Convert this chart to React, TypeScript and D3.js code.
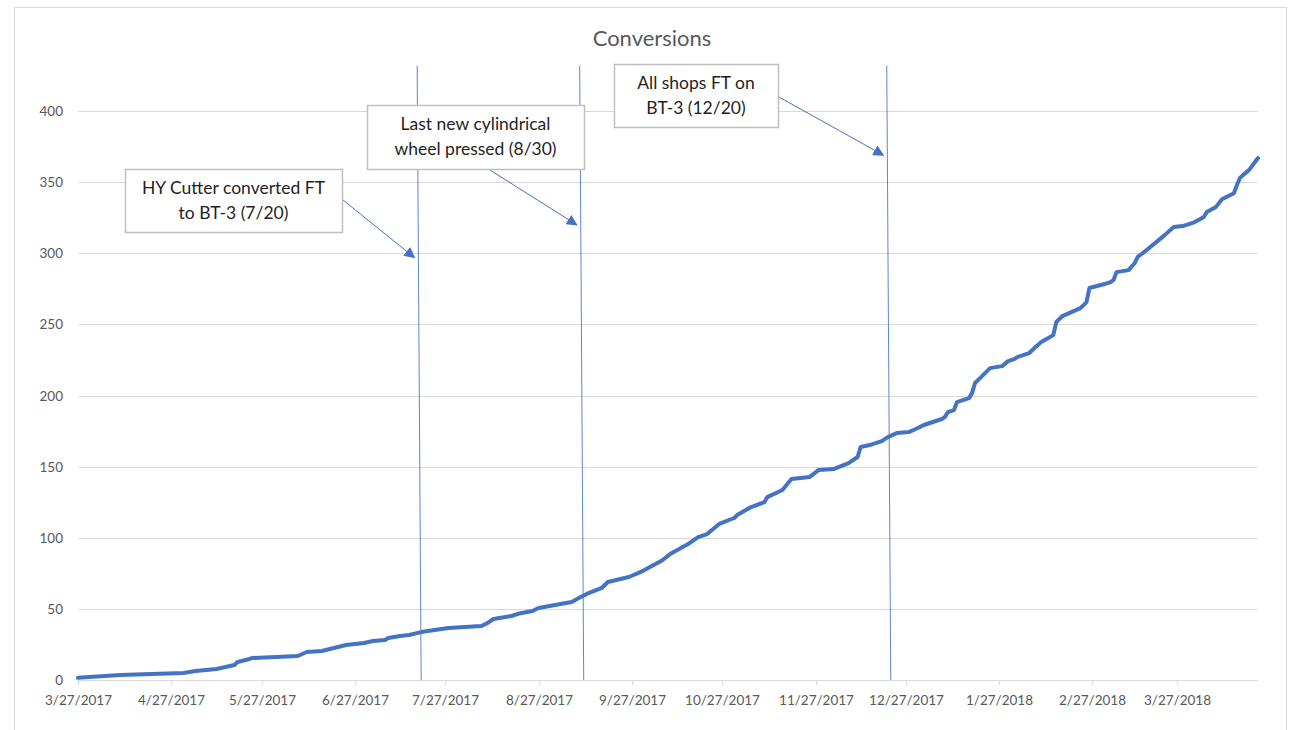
import React from "react";
import * as d3 from "d3";

// Cumulative conversions by date
const dates = [
  "2017-03-27", "2017-04-10", "2017-05-01", "2017-05-05", "2017-05-12", "2017-05-18", "2017-05-19",
  "2017-05-23", "2017-05-24", "2017-06-08", "2017-06-11", "2017-06-16", "2017-06-24", "2017-06-30",
  "2017-07-03", "2017-07-07", "2017-07-08", "2017-07-12", "2017-07-15", "2017-07-19", "2017-07-28",
  "2017-08-08", "2017-08-10", "2017-08-12", "2017-08-18", "2017-08-21", "2017-08-25", "2017-08-27",
  "2017-09-07", "2017-09-10", "2017-09-12", "2017-09-17", "2017-09-19", "2017-09-26", "2017-09-30",
  "2017-10-03", "2017-10-07", "2017-10-10", "2017-10-16", "2017-10-19", "2017-10-22", "2017-10-26",
  "2017-10-31", "2017-11-01", "2017-11-05", "2017-11-10", "2017-11-11", "2017-11-16", "2017-11-19",
  "2017-11-25", "2017-11-28", "2017-12-03", "2017-12-08", "2017-12-10", "2017-12-11", "2017-12-12",
  "2017-12-15", "2017-12-19", "2017-12-21", "2017-12-24", "2017-12-28", "2017-12-31", "2018-01-02",
  "2018-01-08", "2018-01-09", "2018-01-10", "2018-01-12", "2018-01-13", "2018-01-17", "2018-01-18",
  "2018-01-19", "2018-01-21", "2018-01-24", "2018-01-28", "2018-01-30", "2018-02-01", "2018-02-02",
  "2018-02-06", "2018-02-08", "2018-02-10", "2018-02-14", "2018-02-15", "2018-02-17", "2018-02-20",
  "2018-02-23", "2018-02-25", "2018-02-26", "2018-03-03", "2018-03-05", "2018-03-06", "2018-03-07",
  "2018-03-11", "2018-03-13", "2018-03-14", "2018-03-17", "2018-03-21", "2018-03-23", "2018-03-26",
  "2018-03-29", "2018-04-02", "2018-04-05", "2018-04-06", "2018-04-09", "2018-04-11", "2018-04-15",
  "2018-04-16", "2018-04-17", "2018-04-18", "2018-04-20", "2018-04-23",
];

const conversions = [
  1.5, 3.5, 4.9, 6.3, 7.7, 10.5, 12.7,
  14.8, 15.5, 16.9, 19.7, 20.4, 24.6, 26,
  27.4, 28.1, 29.5, 30.9, 31.6, 33.7, 36.5,
  38, 40, 42.9, 45, 47, 48.5, 50.6,
  54.8, 58.3, 60.5, 64.7, 68.9, 72.4, 76,
  79.5, 84, 89, 96, 100.5, 102.6, 109.7,
  113.9, 116, 121, 125, 128.6, 133.6, 141.3,
  142.7, 147.6, 148.3, 152.5, 155.4, 156.8, 163.8,
  165.2, 168, 170.8, 173.6, 174.3, 177.2, 179.3,
  183.5, 185, 188.4, 189.8, 195.4, 198.2, 201.7,
  208.8, 213, 219.3, 220.7, 224.2, 225.6, 227,
  229.9, 234, 237.6, 242.5, 251.7, 255.9, 258.7,
  261.5, 265.5, 275.6, 278.4, 279.8, 281.2, 286.8,
  288.2, 293, 297.4, 302.3, 309.3, 312.8, 318.5,
  319.2, 322, 325.5, 329, 332.5, 338, 342.3,
  348, 353, 355, 358.5, 367,
];

const xDomain = ["2017-03-27", "2018-04-23"];
const xTicks = [
  "2017-03-27", "2017-04-27", "2017-05-27", "2017-06-27", "2017-07-27", "2017-08-27",
  "2017-09-27", "2017-10-27", "2017-11-27", "2017-12-27", "2018-01-27", "2018-02-27", "2018-03-27",
];
const yTicks = [0, 50, 100, 150, 200, 250, 300, 350, 400];

// Milestone marker lines and their callouts
const milestoneDates = ["2017-07-19", "2017-09-11", "2017-12-22"];
const milestoneTop = 432;
const calloutText = [
  ["HY Cutter converted FT", "to BT-3 (7/20)"],
  ["Last new cylindrical", "wheel pressed (8/30)"],
  ["All shops FT on", "BT-3 (12/20)"],
];
const calloutTargets = [297, 320, 369];

// Callout box layout: left, top, width, height, arrow start
const calloutLayout = [
  { x: 125, y: 169, w: 217, h: 63, ax: 343, ay: 200 },
  { x: 367, y: 105, w: 217, h: 64, ax: 490, ay: 170 },
  { x: 614, y: 64, w: 164, h: 63, ax: 779, ay: 97 },
];

const W = 1289;
const H = 730;
const BLUE = "#4472c4";
const TEXT = "#595959";
const GRID = "#d9d9d9";
const FONT = "Lato, 'Open Sans', sans-serif";

export default function App() {
  const parse = d3.timeParse("%Y-%m-%d");
  const fmt = d3.timeFormat("%-m/%-d/%Y");

  const x = d3.scaleTime().domain(xDomain.map((d) => parse(d)!)).range([78, 1258]);
  const y = d3.scaleLinear().domain([0, 450]).range([680, 40]);

  const series = dates.map((d, i) => ({ date: parse(d)!, value: conversions[i] }));
  const line = d3
    .line<{ date: Date; value: number }>()
    .x((d) => x(d.date))
    .y((d) => y(d.value));

  // The marker lines lean slightly to the left towards the top
  const lean = 4;
  const markerX = (d: string, v: number) => {
    const bx = x(parse(d)!);
    const t = v / milestoneTop;
    return bx - lean * t;
  };

  return (
    <svg
      width={W}
      height={H}
      style={{ position: "absolute", left: 0, top: 0, background: "#fff" }}
      fontFamily={FONT}
    >
      <defs>
        <marker
          id="arrowHead"
          viewBox="0 0 10 10"
          refX="9"
          refY="5"
          markerWidth="11"
          markerHeight="11"
          markerUnits="userSpaceOnUse"
          orient="auto"
        >
          <path d="M0,0 L10,5 L0,10 z" fill={BLUE} />
        </marker>
      </defs>

      <rect x={14.5} y={7.5} width={1272} height={740} fill="#fff" stroke={GRID} strokeWidth={1} />

      <text x={652} y={46} textAnchor="middle" fontSize={22} fill={TEXT}>
        Conversions
      </text>

      {/* gridlines */}
      {yTicks.map((t) => (
        <line
          key={t}
          x1={78}
          x2={1258}
          y1={Math.round(y(t)) + 0.5}
          y2={Math.round(y(t)) + 0.5}
          stroke={GRID}
          strokeWidth={1}
        />
      ))}

      {/* y axis labels */}
      {yTicks.map((t) => (
        <text key={t} x={63} y={y(t) + 5} textAnchor="end" fontSize={13.5} fill={TEXT}>
          {t}
        </text>
      ))}

      {/* x axis ticks and labels */}
      {xTicks.map((d) => {
        const px = Math.round(x(parse(d)!)) + 0.5;
        return (
          <g key={d}>
            <line x1={px} x2={px} y1={680} y2={685} stroke={GRID} strokeWidth={1} />
            <text x={px} y={705} textAnchor="middle" fontSize={13.5} fill={TEXT}>
              {fmt(parse(d)!)}
            </text>
          </g>
        );
      })}

      {/* milestone lines */}
      {milestoneDates.map((d) => (
        <line
          key={d}
          x1={markerX(d, milestoneTop)}
          y1={y(milestoneTop)}
          x2={markerX(d, 0)}
          y2={y(0)}
          stroke={BLUE}
          strokeWidth={1}
          opacity={0.85}
        />
      ))}

      {/* data line */}
      <path
        d={line(series) ?? ""}
        fill="none"
        stroke={BLUE}
        strokeWidth={4}
        strokeLinejoin="round"
        strokeLinecap="round"
      />

      {/* callouts */}
      {calloutText.map((lines, i) => {
        const b = calloutLayout[i];
        const tv = calloutTargets[i];
        const tx = markerX(milestoneDates[i], tv) - 4;
        const ty = y(tv);
        return (
          <g key={i}>
            <line
              x1={b.ax}
              y1={b.ay}
              x2={tx}
              y2={ty}
              stroke={BLUE}
              strokeWidth={1}
              markerEnd="url(#arrowHead)"
            />
            <rect
              x={b.x + 0.5}
              y={b.y + 0.5}
              width={b.w}
              height={b.h}
              fill="#fff"
              stroke="#bfbfbf"
              strokeWidth={1.5}
            />
            {lines.map((t, j) => (
              <text
                key={j}
                x={b.x + b.w / 2}
                y={b.y + 25 + j * 25}
                textAnchor="middle"
                fontSize={17.5}
                fill="#1f1f1f"
              >
                {t}
              </text>
            ))}
          </g>
        );
      })}
    </svg>
  );
}
